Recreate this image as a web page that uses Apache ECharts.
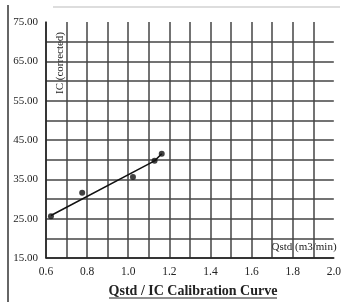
<!DOCTYPE html>
<html><head><meta charset="utf-8">
<script src="https://cdn.jsdelivr.net/npm/echarts@6/dist/echarts.min.js"></script>
<style>html,body{margin:0;padding:0;background:#fff}#c{width:344px;height:302px}</style>
</head><body><div id="c"></div>
<script>
const qstd = [0.624, 0.776, 1.023, 1.128, 1.163];
const icCorrected = [25.6, 31.6, 35.6, 39.7, 41.5];
const fitX = [0.624, 1.128, 1.163];
const fitY = [25.8, 39.7, 41.5];
const xTickLabels = ['0.6','0.8','1.0','1.2','1.4','1.6','1.8','2.0'];
const yTickLabels = ['15.00','25.00','35.00','45.00','55.00','65.00','75.00'];
const titleText = 'Qstd / IC Calibration Curve';
const yName = 'IC (corrected)';
const xName = 'Qstd (m3/min)';

const serif = '"Liberation Serif", "DejaVu Serif", serif';
const chart = echarts.init(document.getElementById('c'), null, {renderer:'canvas'});
chart.setOption({
  animation: false,
  backgroundColor: '#fff',
  grid: {left: 46, right: 9, top: 22, bottom: 44, containLabel: false},
  xAxis: {
    type: 'value', min: 0.6, max: 2.0, interval: 0.1,
    axisLine: {show: true, onZero: false, lineStyle: {color: '#222', width: 1.5}},
    axisTick: {show: false},
    axisLabel: {
      margin: 8, color: '#222', fontFamily: serif, fontSize: 11.5,
      formatter: v => { const s = v.toFixed(1); return xTickLabels.includes(s) ? s : ''; }
    },
    splitLine: {show: true, showMaxLine: false, lineStyle: {color: '#444', width: 1.5}}
  },
  yAxis: {
    type: 'value', min: 15, max: 75, interval: 5,
    axisLine: {show: true, onZero: false, lineStyle: {color: '#222', width: 1.5}},
    axisTick: {show: false},
    axisLabel: {
      margin: 8, color: '#222', fontFamily: serif, fontSize: 11,
      formatter: v => { const s = v.toFixed(2); return yTickLabels.includes(s) ? s : ''; }
    },
    splitLine: {show: true, showMaxLine: false, lineStyle: {color: '#444', width: 1.5}}
  },
  series: [
    {type: 'line', data: fitX.map((x,i)=>[x, fitY[i]]), showSymbol: false, symbol: 'none',
     lineStyle: {color: '#111', width: 1.5}, z: 3},
    {type: 'scatter', data: qstd.map((x,i)=>[x, icCorrected[i]]), symbolSize: 6,
     itemStyle: {color: '#111'}, z: 4}
  ],
  graphic: [
    {type: 'line', shape: {x1: 8, y1: 5, x2: 8, y2: 302}, style: {stroke: '#333', lineWidth: 1.5}},
    {type: 'line', shape: {x1: 53, y1: 7, x2: 340, y2: 7}, style: {stroke: '#bbb', lineWidth: 1}},
    {type: 'text', x: 193, y: 291, style: {text: titleText, font: 'bold 14px ' + serif, fill: '#222', textAlign: 'center', textVerticalAlign: 'middle'}},
    {type: 'line', shape: {x1: 109, y1: 298, x2: 277, y2: 298}, style: {stroke: '#222', lineWidth: 1}},
    {type: 'text', x: 60, y: 63, rotation: Math.PI/2, style: {text: yName, font: '11px ' + serif, fill: '#222', textAlign: 'center', textVerticalAlign: 'middle'}},
    {type: 'text', x: 304, y: 247, style: {text: xName, font: '11px ' + serif, fill: '#222', textAlign: 'center', textVerticalAlign: 'middle'}}
  ]
});
</script></body></html>
